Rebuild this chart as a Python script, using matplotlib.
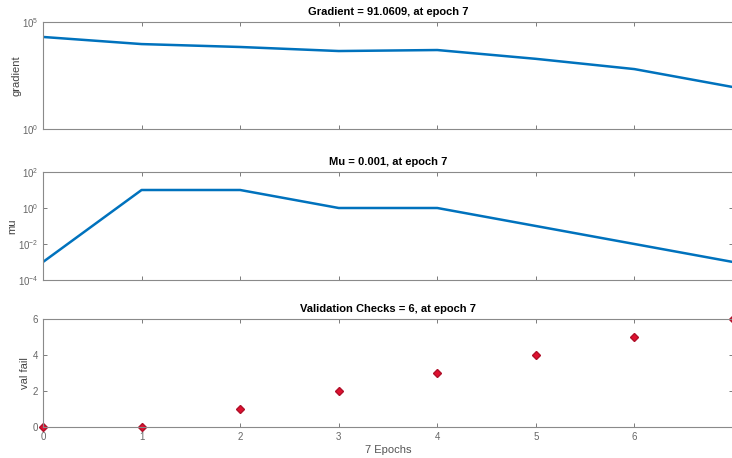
import numpy as np
import matplotlib
matplotlib.use("Agg")
import matplotlib.pyplot as plt

plt.rcParams['font.family'] = ['Liberation Sans', 'DejaVu Sans']

epochs = [0, 1, 2, 3, 4, 5, 6, 7]
gradient = [2.0e4, 9.3e3, 6.8e3, 4.4e3, 4.9e3, 1.9e3, 630, 91.0609]
mu = [0.001, 10, 10, 1, 1, 0.1, 0.01, 0.001]
val_fail = [0, 0, 1, 2, 3, 4, 5, 6]

line_col = '#0072BD'
axis_col = '#8a8a8a'
tick_col = '#666666'

fig = plt.figure(figsize=(7.32, 4.58), dpi=100)

W, H = 732, 458
left = 43 / W
width = (733 - 43) / W

def make_ax(top, bottom):
    ax = fig.add_axes([left, 1 - bottom / H, width, (bottom - top) / H])
    for s in ax.spines.values():
        s.set_color(axis_col)
        s.set_linewidth(0.8)
    ax.tick_params(direction='in', colors=tick_col, labelsize=7,
                   top=True, right=True, length=3, width=0.6)
    ax.set_xlim(0, 7)
    ax.set_xticks(range(7))
    return ax

# gradient
ax1 = make_ax(22, 129)
ax1.semilogy(epochs, gradient, color=line_col, lw=1.8)
ax1.set_ylim(1, 1e5)
ax1.set_yticks([1, 1e5])
ax1.minorticks_off()
ax1.set_xticklabels([])
ax1.set_ylabel('gradient', fontsize=8, color='#444444', labelpad=0)
ax1.set_title('Gradient = 91.0609, at epoch 7', fontsize=8, fontweight='bold', pad=5)

# mu
ax2 = make_ax(172, 280)
ax2.semilogy(epochs, mu, color=line_col, lw=1.8)
ax2.set_ylim(1e-4, 1e2)
ax2.set_yticks([1e-4, 1e-2, 1, 1e2])
ax2.minorticks_off()
ax2.set_xticklabels([])
ax2.set_ylabel('mu', fontsize=8, color='#444444', labelpad=0)
ax2.set_title('Mu = 0.001, at epoch 7', fontsize=8, fontweight='bold', pad=5)

# validation checks
ax3 = make_ax(319, 427)
ax3.plot(epochs, val_fail, linestyle='none', marker='D', markersize=4,
         markerfacecolor='#e0102f', markeredgecolor='#b0102a', clip_on=False)
ax3.set_ylim(0, 6)
ax3.set_yticks([0, 2, 4, 6])
ax3.set_xlabel('7 Epochs', fontsize=8, color='#555555', labelpad=2)
ax3.set_ylabel('val fail', fontsize=8, color='#444444', labelpad=2)
ax3.set_title('Validation Checks = 6, at epoch 7', fontsize=8, fontweight='bold', pad=5)

fig.savefig('out.png', dpi=100)
